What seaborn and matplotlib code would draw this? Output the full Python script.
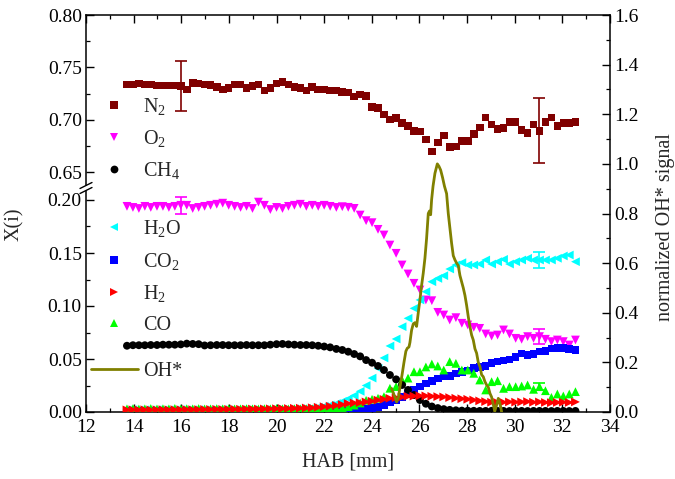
import matplotlib
matplotlib.use("Agg")
import matplotlib.pyplot as plt
import seaborn as sns
from matplotlib.lines import Line2D
from matplotlib.ticker import MultipleLocator, FormatStrFormatter

# ---------------- data ----------------
hab = [13.72, 13.97, 14.22, 14.47, 14.72, 14.98, 15.23, 15.48, 15.73, 15.98,
       16.23, 16.48, 16.73, 16.98, 17.23, 17.49, 17.74, 17.99, 18.24, 18.49,
       18.74, 18.99, 19.24, 19.49, 19.74, 20.00, 20.25, 20.50, 20.75, 21.00,
       21.25, 21.50, 21.75, 22.00, 22.25, 22.51, 22.76, 23.01, 23.26, 23.51,
       23.76, 24.01, 24.26, 24.51, 24.76, 25.02, 25.27, 25.52, 25.77, 26.02,
       26.27, 26.52, 26.77, 27.02, 27.27, 27.53, 27.78, 28.03, 28.28, 28.53,
       28.78, 29.03, 29.28, 29.53, 29.78, 30.04, 30.29, 30.54, 30.79, 31.04,
       31.29, 31.54, 31.79, 32.04, 32.29, 32.55]

n2 = [0.7337, 0.7337, 0.7346, 0.7337, 0.7337, 0.7327, 0.7327, 0.7327, 0.7325, 0.7320,
      0.7288, 0.7353, 0.7346, 0.7337, 0.7330, 0.7314, 0.7288, 0.7305, 0.7337, 0.7335,
      0.7305, 0.7320, 0.7337, 0.7280, 0.7305, 0.7346, 0.7359, 0.7337, 0.7314, 0.7305,
      0.7280, 0.7315, 0.7290, 0.7290, 0.7280, 0.7280, 0.7265, 0.7260, 0.7220, 0.7240,
      0.7225, 0.7120, 0.7110, 0.7048, 0.7000, 0.7016, 0.6968, 0.6942, 0.6894, 0.6888,
      0.6810, 0.6695, 0.6782, 0.6849, 0.6737, 0.6744, 0.6798, 0.6798, 0.6865, 0.6926,
      0.7022, 0.6952, 0.6910, 0.6920, 0.6978, 0.6978, 0.6904, 0.6872, 0.6952, 0.6894,
      0.6978, 0.7022, 0.6942, 0.6968, 0.6968, 0.6978]

o2 = [0.194, 0.193, 0.192, 0.194, 0.193, 0.194, 0.194, 0.193, 0.194, 0.195,
      0.195, 0.192, 0.193, 0.194, 0.195, 0.196, 0.197, 0.195, 0.194, 0.193,
      0.194, 0.192, 0.198, 0.195, 0.191, 0.193, 0.192, 0.194, 0.195, 0.196,
      0.194, 0.195, 0.194, 0.195, 0.194, 0.193, 0.1937, 0.1931, 0.1921, 0.1858,
      0.1805, 0.1786, 0.1723, 0.1670, 0.1575, 0.1497, 0.1387, 0.1302, 0.1214, 0.1151,
      0.1057, 0.1050, 0.0940, 0.0915, 0.0868, 0.0890, 0.0837, 0.0821, 0.0799, 0.0789,
      0.0736, 0.0717, 0.0726, 0.0774, 0.0736, 0.0695, 0.0686, 0.0711, 0.0695, 0.0711,
      0.0686, 0.0664, 0.0679, 0.0664, 0.0632, 0.0679]

ch4 = [0.0625, 0.0630, 0.0630, 0.0630, 0.0632, 0.0632, 0.0635, 0.0635, 0.0635, 0.0638,
       0.0645, 0.0642, 0.0640, 0.0628, 0.0630, 0.0632, 0.0632, 0.0630, 0.0630, 0.0630,
       0.0632, 0.0630, 0.0630, 0.0630, 0.0635, 0.0640, 0.0642, 0.0638, 0.0635, 0.0632,
       0.0632, 0.0630, 0.0625, 0.0618, 0.0610, 0.0595, 0.0585, 0.0569, 0.0547, 0.0525,
       0.0490, 0.0465, 0.0434, 0.0396, 0.0349, 0.0308, 0.0255, 0.0208, 0.0160, 0.0113,
       0.0078, 0.0052, 0.0037, 0.0027, 0.0020, 0.0016, 0.0013, 0.0012, 0.0011, 0.0010,
       0.0010, 0.0011, 0.0010, 0.0010, 0.0009, 0.0010, 0.0010, 0.0009, 0.0010, 0.0010,
       0.0010, 0.0009, 0.0010, 0.0010, 0.0009, 0.0010]

h2o = [0.0020, 0.0022, 0.0020, 0.0021, 0.0020, 0.0022, 0.0020, 0.0021, 0.0020, 0.0022,
       0.0020, 0.0021, 0.0022, 0.0020, 0.0021, 0.0020, 0.0022, 0.0021, 0.0020, 0.0022,
       0.0021, 0.0022, 0.0023, 0.0022, 0.0024, 0.0025, 0.0026, 0.0028, 0.0030, 0.0032,
       0.0035, 0.0040, 0.0046, 0.0055, 0.0066, 0.0080, 0.0100, 0.0125, 0.0155, 0.0195,
       0.0250, 0.0320, 0.0412, 0.0510, 0.0623, 0.0689, 0.0805, 0.0884, 0.0978, 0.1057,
       0.1135, 0.1229, 0.1260, 0.1286, 0.1349, 0.1387, 0.1409, 0.1387, 0.1387, 0.1396,
       0.1434, 0.1396, 0.1418, 0.1440, 0.1396, 0.1418, 0.1434, 0.1450, 0.1434, 0.1434,
       0.1434, 0.1434, 0.1450, 0.1472, 0.1481, 0.1418]

co2 = [0.0008, 0.0008, 0.0009, 0.0008, 0.0008, 0.0009, 0.0008, 0.0008, 0.0009, 0.0008,
       0.0008, 0.0008, 0.0009, 0.0008, 0.0008, 0.0009, 0.0008, 0.0008, 0.0009, 0.0008,
       0.0008, 0.0009, 0.0008, 0.0009, 0.0009, 0.0010, 0.0009, 0.0010, 0.0010, 0.0010,
       0.0010, 0.0011, 0.0011, 0.0012, 0.0012, 0.0013, 0.0014, 0.0016, 0.0018, 0.0021,
       0.0027, 0.0035, 0.0050, 0.0068, 0.0090, 0.0115, 0.0140, 0.0170, 0.0208, 0.0239,
       0.0270, 0.0292, 0.0315, 0.0335, 0.0340, 0.0362, 0.0375, 0.0390, 0.0415, 0.0425,
       0.0434, 0.0465, 0.0478, 0.0484, 0.0497, 0.0520, 0.0553, 0.0538, 0.0550, 0.0569,
       0.0575, 0.0600, 0.0601, 0.0603, 0.0594, 0.0585]

h2 = [0.0020, 0.0021, 0.0020, 0.0021, 0.0020, 0.0021, 0.0022, 0.0021, 0.0022, 0.0022,
      0.0023, 0.0022, 0.0023, 0.0024, 0.0024, 0.0025, 0.0024, 0.0025, 0.0026, 0.0026,
      0.0027, 0.0028, 0.0028, 0.0029, 0.0030, 0.0031, 0.0032, 0.0033, 0.0035, 0.0036,
      0.0038, 0.0040, 0.0045, 0.0050, 0.0055, 0.0062, 0.0070, 0.0080, 0.0085, 0.0088,
      0.0095, 0.0102, 0.0112, 0.0120, 0.0129, 0.0135, 0.0140, 0.0148, 0.0150, 0.0153,
      0.0152, 0.0148, 0.0145, 0.0142, 0.0136, 0.0130, 0.0125, 0.0120, 0.0113, 0.0105,
      0.0098, 0.0092, 0.0090, 0.0092, 0.0095, 0.0093, 0.0095, 0.0098, 0.0092, 0.0095,
      0.0090, 0.0088, 0.0090, 0.0092, 0.0090, 0.0095]

co = [0.0030, 0.0032, 0.0028, 0.0030, 0.0033, 0.0029, 0.0031, 0.0030, 0.0034, 0.0029,
      0.0031, 0.0030, 0.0033, 0.0029, 0.0030, 0.0032, 0.0030, 0.0031, 0.0029, 0.0030,
      0.0032, 0.0030, 0.0029, 0.0031, 0.0030, 0.0033, 0.0030, 0.0029, 0.0031, 0.0030,
      0.0031, 0.0030, 0.0030, 0.0032, 0.0033, 0.0036, 0.0042, 0.0050, 0.0065, 0.0085,
      0.0110, 0.0120, 0.0130, 0.0145, 0.0224, 0.0240, 0.0302, 0.0320, 0.0380, 0.0380,
      0.0425, 0.0453, 0.0434, 0.0396, 0.0475, 0.0459, 0.0396, 0.0396, 0.0365, 0.0302,
      0.0208, 0.0286, 0.0295, 0.0223, 0.0239, 0.0239, 0.0245, 0.0255, 0.0214, 0.0239,
      0.0201, 0.0138, 0.0170, 0.0151, 0.0170, 0.0192]

oh_hab = [24.83, 24.93, 25.04, 25.12, 25.18, 25.27, 25.35, 25.43, 25.49, 25.56,
          25.60, 25.67, 25.74, 25.81, 25.88, 25.95, 26.02, 26.09, 26.16, 26.23,
          26.30, 26.37, 26.42, 26.47, 26.51, 26.57, 26.65, 26.75, 26.82, 26.89,
          26.97, 27.05, 27.14, 27.21, 27.28, 27.35, 27.42, 27.49, 27.56, 27.63,
          27.70, 27.77, 27.84, 27.91, 27.98, 28.05, 28.12, 28.19, 28.26, 28.33,
          28.40, 28.47, 28.54, 28.61, 28.68, 28.75, 28.82, 28.89, 28.96, 29.03,
          29.09, 29.16, 29.24, 29.31, 29.38, 29.45]
oh_signal = [0.095, 0.07, 0.04, 0.06, 0.10, 0.15, 0.20, 0.245, 0.257, 0.262,
             0.28, 0.33, 0.355, 0.36, 0.345, 0.40, 0.452, 0.51, 0.56, 0.62,
             0.70, 0.80, 0.81, 0.795, 0.855, 0.91, 0.962, 1.0, 0.99, 0.975,
             0.945, 0.91, 0.88, 0.80, 0.74, 0.68, 0.63, 0.613, 0.60, 0.59,
             0.55, 0.525, 0.50, 0.47, 0.43, 0.384, 0.344, 0.31, 0.29, 0.255,
             0.237, 0.20, 0.183, 0.15, 0.142, 0.122, 0.109, 0.10, 0.075, 0.06,
             0.035, 0.003, 0.028, 0.055, 0.035, 0.0]

# error bars: indices into hab and half-widths
n2_err_idx, n2_err = [9, 69], [0.024, 0.031]
o2_err_idx, o2_err = [9, 69], [0.008, 0.007]
h2o_err_idx, h2o_err = [69], [0.008]
co_err_idx, co_err = [69], [0.003]

labels = ["N$_\\mathrm{2}$", "O$_\\mathrm{2}$", "CH$_\\mathrm{4}$", "H$_\\mathrm{2}$O",
          "CO$_\\mathrm{2}$", "H$_\\mathrm{2}$", "CO", "OH*"]

C_N2, C_O2, C_CH4, C_H2O = "#800000", "#ff00ff", "#000000", "#00ffff"
C_CO2, C_H2, C_CO, C_OH = "#0000ff", "#ff0000", "#00ff00", "#808000"

# ---------------- style ----------------
sns.set_theme(style="ticks")
plt.rcParams.update({
    "font.family": ["Liberation Serif", "DejaVu Serif"],
    "mathtext.fontset": "custom",
    "mathtext.rm": "Liberation Serif",
    "mathtext.it": "Liberation Serif:italic",
    "mathtext.bf": "Liberation Serif:bold",
    "xtick.direction": "in",
    "ytick.direction": "in",
    "axes.linewidth": 1.1,
    "xtick.major.width": 1.0, "ytick.major.width": 1.0,
    "xtick.minor.width": 0.9, "ytick.minor.width": 0.9,
    "xtick.major.size": 5.5, "ytick.major.size": 5.5,
    "xtick.minor.size": 3.0, "ytick.minor.size": 3.0,
    "xtick.color": "black", "ytick.color": "black",
    "axes.edgecolor": "black",
})
TICK_FS = 14
LAB_FS = 14.5

W_PX, H_PX = 675, 479
fig = plt.figure(figsize=(W_PX / 100, H_PX / 100), dpi=100)
L = 86 / W_PX
AW = 524 / W_PX
BREAK = 188  # px from top
TOP_PX, BOT_PX = 15, 412

ax_top = fig.add_axes([L, 1 - BREAK / H_PX, AW, (BREAK - TOP_PX) / H_PX])
ax_low = fig.add_axes([L, 1 - BOT_PX / H_PX, AW, (BOT_PX - BREAK) / H_PX])
ax_r = fig.add_axes([L, 1 - BOT_PX / H_PX, AW, (BOT_PX - TOP_PX) / H_PX])
ax_r.patch.set_alpha(0)

low_top = (BOT_PX - BREAK) / 1060.0
top_bot = 0.80 - (BREAK - TOP_PX) / 1046.7

def scat(ax, y, marker, color, s):
    sns.scatterplot(x=hab, y=y, marker=marker, color=color, s=s,
                    edgecolor="none", linewidth=0, legend=False, ax=ax, zorder=3)

def ebar(ax, idx, y, err, color):
    ax.errorbar([hab[i] for i in idx], [y[i] for i in idx], yerr=err, fmt="none",
                ecolor=color, elinewidth=1.2, capsize=4, capthick=1.2, zorder=4)

# upper panel
scat(ax_top, n2, "s", C_N2, 30)
ebar(ax_top, n2_err_idx, n2, n2_err, C_N2)

# lower panel
scat(ax_low, o2, "v", C_O2, 40)
scat(ax_low, h2o, "<", C_H2O, 40)
scat(ax_low, co2, "s", C_CO2, 30)
scat(ax_low, co, "^", C_CO, 40)
scat(ax_low, ch4, "o", C_CH4, 32)
scat(ax_low, h2, ">", C_H2, 40)
ebar(ax_low, o2_err_idx, o2, o2_err, C_O2)
ebar(ax_low, h2o_err_idx, h2o, h2o_err, C_H2O)
ebar(ax_low, co_err_idx, co, co_err, C_CO)

# OH* on right axis
sns.lineplot(x=oh_hab, y=oh_signal, color=C_OH, lw=2.0, ax=ax_r, sort=False,
             legend=False, zorder=5)

# ---------------- axes ----------------
for ax in (ax_top, ax_low, ax_r):
    ax.set_xlim(12, 34)
    ax.set_xlabel("")
    ax.set_ylabel("")

ax_top.set_ylim(top_bot, 0.80)
ax_low.set_ylim(0, low_top)
ax_r.set_ylim(0, 1.6)

# top panel
ax_top.spines["bottom"].set_visible(False)
ax_top.spines["right"].set_visible(False)
ax_top.xaxis.set_major_locator(MultipleLocator(2))
ax_top.xaxis.set_minor_locator(MultipleLocator(1))
ax_top.tick_params(axis="x", which="both", bottom=False, top=True, labelbottom=False, labeltop=False)
ax_top.yaxis.set_major_locator(MultipleLocator(0.05))
ax_top.yaxis.set_minor_locator(MultipleLocator(0.025))
ax_top.yaxis.set_major_formatter(FormatStrFormatter("%.2f"))
ax_top.tick_params(axis="y", which="both", left=True, right=False, labelsize=TICK_FS, pad=3)
ax_top.spines["left"].set_bounds(top_bot + 3 / 1046.7, 0.80)

# lower panel
ax_low.spines["top"].set_visible(False)
ax_low.spines["right"].set_visible(False)
ax_low.xaxis.set_major_locator(MultipleLocator(2))
ax_low.xaxis.set_minor_locator(MultipleLocator(1))
ax_low.tick_params(axis="x", which="both", bottom=True, top=False, labelsize=TICK_FS, pad=5)
ax_low.yaxis.set_major_locator(MultipleLocator(0.05))
ax_low.yaxis.set_minor_locator(MultipleLocator(0.025))
ax_low.yaxis.set_major_formatter(FormatStrFormatter("%.2f"))
ax_low.tick_params(axis="y", which="both", left=True, right=False, labelsize=TICK_FS, pad=3)
ax_low.spines["left"].set_bounds(0, low_top - 3 / 1060.0)
ax_low.set_xlabel("HAB [mm]", fontsize=LAB_FS, labelpad=12)
ax_low.set_ylabel("X(i)", fontsize=LAB_FS)
ax_low.yaxis.set_label_coords(-0.118, 0.84)

# right axis
for sp in ("left", "top", "bottom"):
    ax_r.spines[sp].set_visible(False)
ax_r.tick_params(axis="x", which="both", bottom=False, top=False, labelbottom=False)
ax_r.yaxis.tick_right()
ax_r.yaxis.set_label_position("right")
ax_r.yaxis.set_major_locator(MultipleLocator(0.2))
ax_r.yaxis.set_minor_locator(MultipleLocator(0.1))
ax_r.yaxis.set_major_formatter(FormatStrFormatter("%.1f"))
ax_r.tick_params(axis="y", which="both", right=True, left=False, labelsize=TICK_FS, pad=3)
ax_r.set_ylabel("normalized OH* signal", fontsize=LAB_FS)
ax_r.yaxis.set_label_coords(1.106, 0.465)
ax_r.yaxis.label.set_verticalalignment("center")

# break marks on left spine
for dy in (-2.5, 2.5):
    ax_low.plot([-6 / 524, 6 / 524], [1 + (dy - 3) / 224, 1 + (dy + 3) / 224],
                transform=ax_low.transAxes, color="black", lw=1.0, clip_on=False, zorder=10)

# ---------------- legends ----------------
def mk(marker, color, ms):
    return Line2D([], [], marker=marker, color=color, ls="none", markersize=ms,
                  markeredgewidth=0)

h_top = [mk("s", C_N2, 5.4), mk("v", C_O2, 6.4), mk("o", C_CH4, 5.6)]
h_low = [mk("<", C_H2O, 6.4), mk("s", C_CO2, 5.4), mk(">", C_H2, 6.4), mk("^", C_CO, 6.4)]
h_oh = [Line2D([], [], color=C_OH, lw=2.0)]

common = dict(frameon=False, borderpad=0, borderaxespad=0, handlelength=2.33,
              handletextpad=0.25, fontsize=LAB_FS, loc="upper left",
              bbox_transform=fig.transFigure, numpoints=1)
leg1 = ax_top.legend(h_top, labels[0:3], bbox_to_anchor=(91 / W_PX, 1 - 96 / H_PX),
                     labelspacing=0.55, **common)
leg2 = ax_low.legend(h_low, labels[3:7], bbox_to_anchor=(91 / W_PX, 1 - 218 / H_PX),
                     labelspacing=0.58, **common)
leg3 = ax_r.legend(h_oh, labels[7:8], bbox_to_anchor=(91 / W_PX, 1 - 362 / H_PX),
                   **common)

fig.savefig("out.png", dpi=100)
